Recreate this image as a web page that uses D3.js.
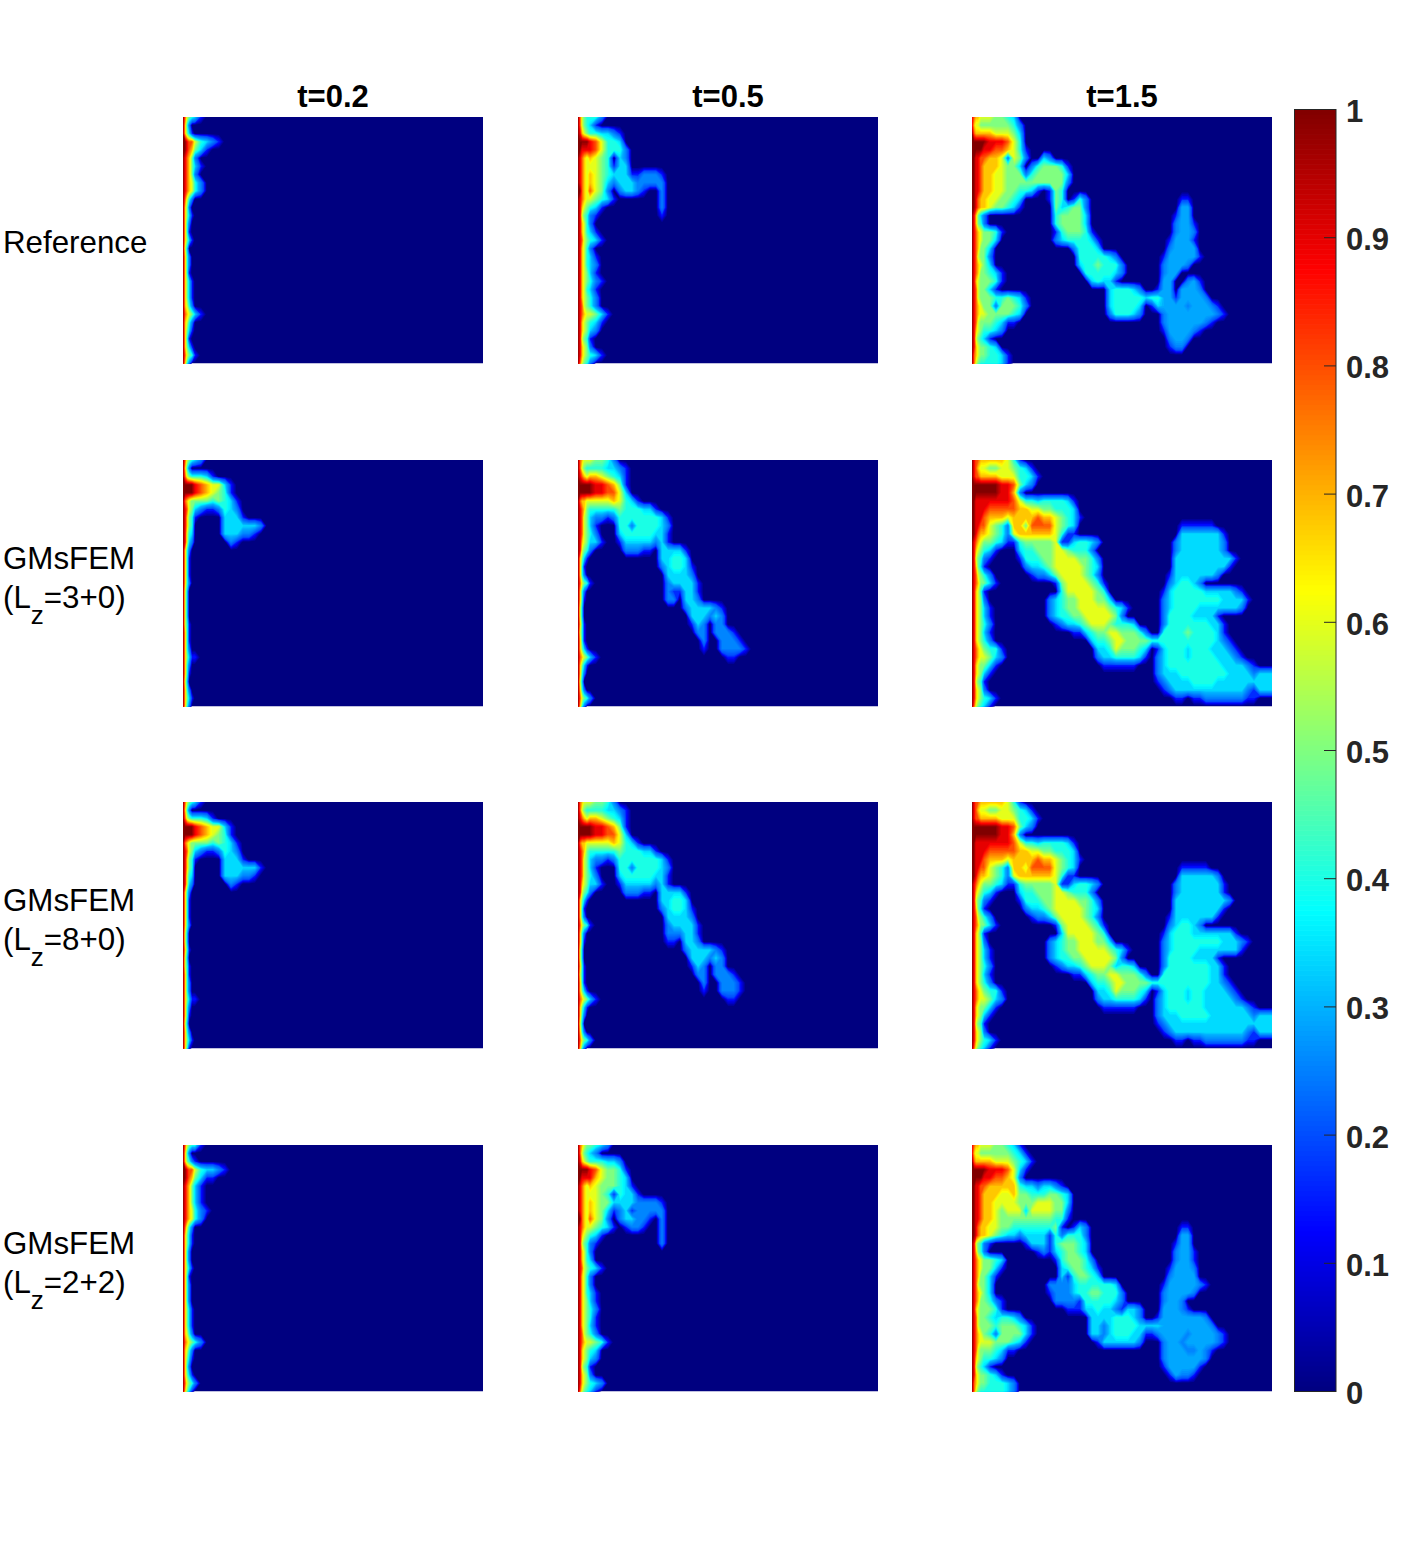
<!DOCTYPE html>
<html><head><meta charset="utf-8">
<script src="https://cdn.jsdelivr.net/npm/d3@7"></script>
<style>html,body{margin:0;padding:0;background:#fff}svg{display:block}text{font-family:"Liberation Sans",Arial,sans-serif}</style>
</head><body><svg id="c" width="1406" height="1563"></svg>
<script>
// Saturation fields. Each string is one mesh row; each character is a level code.
const levelCodes = {0:0,1:0.1,2:0.22,a:0.3,3:0.35,4:0.42,5:0.5,6:0.6,7:0.7,8:0.8,9:0.9,X:1};
const meshX = [0,2,4,6,9].concat(d3.range(12,301,6));
const timeLabels = ["t=0.2","t=0.5","t=1.5"];
const colorTicks = [0,0.1,0.2,0.3,0.4,0.5,0.6,0.7,0.8,0.9,1];

const ref02 = ["X8654 31","X7420","X7531","XX988 64321","XX987 531","X9875 2","X9875 31","X9875 2","X9876 42","X9876 42","X8642",
"X7520","X7531","X7420","X7410","X7531","X6300","X7420","X7420","X7410","X7531","X7531","X7531","X7642","X8765 31","X7642","X7531","X7410","X7531","X8654 1","X7420"];
const ref05 = ["X8654 44200","X8654 31","X9765 44332 1","XXXXX 98644 3","XX999 98644 42","X9876 76540 32","X9876 66541 33","X9876 76543 33112 221","X9876 76532 33322 222","XX876 86520 23321 002","X9876 65431 00000 002",
"X9765 43100 00000 002","X9654 21000 00000 001","X9764 2","X9764 31","X9865 431","X9764 2","X9764 31","X9764 32","X9765 31","X9765 421","X9764 31","X9765 42","X9865 42","X9876 6531","X9765 431","X9765 32","X9654 1","X9765 2","X9765 431","X8654 2"];
const ref15 = ["98776 66554 30","97665 55555 42","X8777 77666 530","XXXXX X9998 640","XXXXX 99887 641","XX998 87762 65200 32","XX998 77765 53024 55541","XX998 77665 55245 55553","XX998 77665 55555 55552","XX998 77665 54431 01540","XX987 76655 43000 01540 14200 00000 00000 00011",
"XX987 76554 31000 00534 55200 00000 00000 000aa","X9753 20000 00000 00455 55300 00000 00000 001aa","X9754 20000 00000 00455 55300 00000 00000 002aa 1","X9876 55410 00000 00145 55410 00000 00000 002aa 2","X9876 55300 00000 00234 44431 00000 00000 01aaa 1","X9875 53000 00000 00000 24443 00000 00000 02aaa a","X9865 52000 00000 00000 04444 43200 00000 1aaaa a1","X9876 53000 00000 00000 03445 44420 00000 2aaa2","X9875 54310 00000 00000 00444 44320 00000 2aa00","X9765 55410 00000 00000 00034 33100 00000 aa002 a1",
"X9865 53100 00000 00000 00000 03444 32001 aa0aa a2","X9865 55445 43100 00000 00000 03444 44344 aa1aa aa2","X9876 55255 54200 00000 00000 03444 43013 aaaa2 aaa21","X9876 65555 43000 00000 00000 02444 32000 2aaaa aaaa2 1","X9865 55431 10000 00000 00000 00000 00000 2aaaa aa21","X9765 44320 00000 00000 00000 00000 00000 1aaaa 21","X9654 31000 00000 00000 00000 00000 00000 02aa2","X9765 54300 00000 00000 00000 00000 00000 01220","X8765 54431","X8654 44431"];

const a02 = ["X8654 32","X7420","X8654 4431","XXXXX 98766 31","XXXXX 98765 41","X8765 55545 431","X9865 32112 432","X9754 10000 3331","X9754 00000 33333 32","X9643 00000 33322 1","X9632 00000 021",
"X7420","X7410","X7410","X7410","X7420","X6300","X6300","X6300","X6300","X6410","X7410","X7410","X7420","X7531 1","X7420","X7410","X6300","X7420","X7531","X7420"];
const a05 = ["X8766 65542","X8654 44433 21","X9876 77654 31","XXXXX X9987 51","XXXXX X9988 63","X8776 66667 6431","X9875 44444 54443 31","X9865 32212 44444 44310","X9865 31000 44244 44320","X9865 42000 34444 43310","X9765 33100 13333 32310",
"X9654 20000 02221 10333 31","X7531 00000 00000 00334 43","X7410 00000 00000 00234 431","X7420 00000 00000 00033 332","X8654 10000 00000 00023 3331","X7420 00000 00000 00021 1331","X7410 00000 00000 00022 0332","X6300 00000 00000 00000 02333 321","X6300 00000 00000 00000 00333 232","X7410 00000 00000 00000 00132 022",
"X6410 00000 00000 00000 00022 02221","X7410 00000 00000 00000 00002 00222 1","X7531 00000 00000 00000 00001 00222 21","X8765 31000 00000 00000 00000 00011","X7531","X7420","X6300","X7420","X8654 2","X7420"];
const a15 = ["X9887 77776 41","X9876 65566 5431","X9887 77766 64431","XXXXX XXX99 8532","XXXXX XXX99 72","XX999 99999 86443 44443 1","XX999 98888 87766 55444 3","XX999 87776 77778 77654 31","XX998 86542 77588 88654 3 0000 00000 00000 00011 1111","XX987 76542 67777 77641 1 0000 00000 00000 00033 33333 1","X9876 55431 14555 55611 34432 00000 00000 00233 33333 2",
"X9765 43100 03445 55665 44420 00000 00000 00233 33333 2","X9654 21000 01444 55666 65542 00000 00000 00333 33333 331","X9753 10000 00233 45666 66543 00000 00000 00333 33333 31","X9865 42000 00012 23566 66542 00000 00000 01333 33332","X9875 53100 00000 00156 66654 10000 00000 02344 32","X9764 10000 00000 00046 66665 40000 00000 13444 44333 3321","X9765 20000 00000 02345 56665 53000 00000 23444 44444 33331","X9765 31000 00000 02345 56666 65431 00000 23444 43333 3332","X9765 31000 00000 02344 55666 66520 00000 24444 33331","X9765 42000 00000 00123 34566 65444 30000 24444 44433 1",
"X9765 31000 00000 00000 11345 56655 54200 44445 44443 1","X9765 42000 00000 00000 00034 45665 55544 44444 44443 21","X9876 54410 00000 00000 00003 34655 54301 34443 44433 321","X9876 65320 00000 00000 00002 33444 43102 34443 44443 3321","X9765 53100 00000 00000 00000 11111 10002 34444 44444 33332 1","X9765 31000 00000 00000 00000 00000 00002 33344 44444 43333 2333","X9654 10000 00000 00000 00000 00000 00001 23333 44443 33333 3333","X9765 20000 00000 00000 00000 00000 00000 12333 33333 33332 1333","X9765 43100 00000 00000 00000 00000 00000 00110 11222 22221 1","X8654 31"];

const b02 = ["X8654 31","X7420","X8654 4431","XXXXX 98766 31","XXXXX 98765 41","X8765 55545 431","X9865 32112 432","X9754 10000 3331","X9754 00000 33333 31","X9643 00000 33322 1","X9632 00000 021",
"X7420","X7410","X7410","X7410","X7420","X6300","X6300","X7410","X6300","X6410","X7410","X7420","X7420","X7531 1","X7420","X7410","X6300","X7420","X7531","X7410"];
const b05 = ["X8766 65542","X8654 44433 21","X9876 77654 31","XXXXX X9987 51","XXXXX X9988 63","X8776 66667 6431","X9875 44444 54443 31","X9865 32212 44444 44310","X9865 31000 44244 44320","X9865 42000 34444 43310","X9765 33100 13333 32310",
"X9654 20000 02221 10333 31","X7531 00000 00000 00334 43","X7410 00000 00000 00234 431","X7420 00000 00000 00033 332","X8654 10000 00000 00023 3331","X7420 00000 00000 00022 2331","X7410 00000 00000 00011 0332","X6300 00000 00000 00000 02333 321","X6300 00000 00000 00000 00333 232","X7410 00000 00000 00000 00132 022",
"X6410 00000 00000 00000 00022 02221","X7410 00000 00000 00000 00002 00222 1","X7531 00000 00000 00000 00001 00222 1","X8765 31000 00000 00000 00000 00011","X7531","X7420","X6300","X7420","X8654 2","X7420"];
const b15 = ["X9887 77776 41","X9876 65566 5431","X9887 77766 64431","XXXXX XXX99 8532","XXXXX XXX99 72","XX999 99999 86443 44443 1","XX999 98888 87766 55444 3","XX999 87776 77778 77654 31","XX998 86542 77688 88654 3 0000 00000 00000 00011 1110","XX987 76542 67777 77641 1 0000 00000 00000 00033 33332","X9876 55431 14555 55611 34432 00000 00000 00233 33333 1",
"X9765 43100 03445 55665 44420 00000 00000 00233 33333 1","X9654 21000 01444 55666 65542 00000 00000 00333 33333 32","X9753 10000 00233 45666 66543 00000 00000 00333 33333 1","X9865 42000 00012 23566 66542 00000 00000 01333 33331","X9875 53100 00000 00156 66654 10000 00000 02344 32","X9764 10000 00000 00036 66665 40000 00000 13444 33333 331","X9765 20000 00000 02345 56665 53000 00000 23444 44444 33321","X9765 31000 00000 02345 56666 65431 00000 23444 43333 3331","X9765 31000 00000 02344 55666 66520 00000 24444 33331","X9765 42000 00000 00123 34566 65344 30000 24444 44433 1",
"X9765 31000 00000 00000 11345 56655 54200 44444 44433 1","X9765 42000 00000 00000 00034 45665 55544 44444 44433 21","X9876 54410 00000 00000 00003 34655 54301 34443 44333 321","X9876 65320 00000 00000 00002 33444 43102 34443 44333 3321","X9765 53100 00000 00000 00000 11111 10002 34444 44333 33332 1","X9765 31000 00000 00000 00000 00000 00002 33344 44433 33333 2333","X9654 10000 00000 00000 00000 00000 00001 23333 33333 33333 3333","X9765 20000 00000 00000 00000 00000 00000 12333 33333 33332 1333","X9765 43100 00000 00000 00000 00000 00000 00110 11222 22221 1","X8654 31"];

const c02 = ["X8654 41","X7420","X7542 1","XX988 64332 1","XX987 5311","X9875 31","X9875 31","X9875 31","X9876 421","X9876 42","X8642",
"X7531","X7531","X7420","X7420","X7531","X7410","X7420","X7420","X7420","X7531","X7531","X7531","X7642","X8765 42","X7642","X7531","X7420","X7531","X8654 2","X7531"];
const c05 = ["X8765 5432","X8654 32","X9765 44433 2","XXXXX 98655 41","XX999 97655 43","X9876 76555 431","X9876 66541 4331","X9876 76553 33322 221","X9876 76531 23122 222","XX876 86520 23322 102","X9876 65431 01221 002",
"X9765 43100 00000 002","X9654 21000 00000 002","X9764 2","X9764 3","X9865 431","X9764 2","X9764 2","X9764 31","X9765 31","X9765 42","X9765 41","X9765 31","X9865 42","X9876 6541","X9765 43","X9765 32","X9654 1","X9765 2","X9765 432","X8654 31"];
const c15 = ["98776 66554 31","97665 55555 431","X8777 77666 5431","XXXXX X9998 631","XXXXX 99887 62","XX998 87777 74332 3321","XX998 77766 75544 45543","XX998 77666 65556 66553","XX998 77656 66366 66552","XX998 77655 55555 55441","XX987 76655 44444 44510 13200 00000 00000 00011",
"XX987 76543 32333 31424 44200 00000 00000 000aa","X9654 21000 00133 31455 54300 00000 00000 001aa","X9754 20000 00001 21345 54300 00000 00000 002aa 1","X9876 55430 00000 00145 55420 00000 00000 002aa 1","X9876 55310 00000 00034 55431 00000 00000 01aaa 2","X9875 53100 00000 00031 45543 00000 00000 02aaa a","X9865 53000 00000 02222 34444 44300 00000 1aaaa a21","X9876 53000 00000 01222 34455 44420 00000 2aaaa 2","X9875 54210 00000 00222 21444 44320 00000 2aa20","X9765 55410 00000 00001 11334 33213 32000 aaa21",
"X9865 54344 32000 00000 00033 33444 32001 aaaaa aa2","X9865 55455 54310 00000 00033 23444 43333 aaaaa aaa2","X9876 54255 55310 00000 00033 23444 33112 aaaa2 aaaa2 1","X9876 66555 43100 00000 00001 33333 32000 2aa2a aaaa2 1","X9865 55431 10000 00000 00000 00000 00000 2aaa2 2a21","X9765 44320 00000 00000 00000 00000 00000 2aaaa aa2","X9654 31000 00000 00000 00000 00000 00000 1aaaa a1","X9765 54310 00000 00000 00000 00000 00000 01a22 1","X8765 54443 2","X8654 44443 2"];

const panelRows = [[ref02,ref05,ref15],[a02,a05,a15],[b02,b05,b15],[c02,c05,c15]];

const svg = d3.select("#c");
const jet = d3.scaleLinear().domain([0,0.125,0.375,0.625,0.875,1]).range(["#000080","#0000ff","#00ffff","#ffff00","#ff0000","#800000"]);
const fringe = d3.scaleLinear().domain([0,0.12,0.3,1]).range([0,0.2,0.3,1]);
const colLeft = [183,578,972], rowTop = [117,460,802,1145], panelW = 300, panelH = 246.5;
const nx = meshX.length, ny = 31;
const yScale = d3.scaleLinear().domain([0,ny-1]).range([0,panelH]);
const gridX = d3.scaleLinear().domain(d3.range(nx)).range(meshX);
const thresholds = d3.range(0.02,1.001,0.02);
const contourGen = d3.contours().size([nx,ny]).thresholds(thresholds);
const path = d3.geoPath(d3.geoTransform({point(x,y){this.stream.point(gridX(x-0.5), yScale(y-0.5));}}));
const parse = rows => rows.flatMap(r=>{
  const s = r.replace(/ /g,"").padEnd(nx,"0").slice(0,nx);
  return Array.from(s, c=> levelCodes[c]);
});

const defs = svg.append("defs");
defs.append("clipPath").attr("id","pc").append("rect").attr("width",panelW).attr("height",panelH);

panelRows.forEach((row,i)=>row.forEach((field,j)=>{
  const g = svg.append("g").attr("transform",`translate(${colLeft[j]},${rowTop[i]})`).attr("clip-path","url(#pc)");
  g.append("rect").attr("width",panelW).attr("height",panelH).attr("fill",jet(0));
  g.selectAll("path").data(contourGen(parse(field))).join("path").attr("d",path).attr("fill",d=>jet(fringe(d.value)));
}));

// titles
svg.selectAll("text.title").data(timeLabels).join("text").attr("class","title")
  .attr("x",(d,i)=>colLeft[i]+panelW/2).attr("y",107).attr("text-anchor","middle")
  .attr("font-size",31).attr("font-weight","bold").attr("fill","#000").text(d=>d);

// row labels
svg.append("text").attr("x",3).attr("y",253).attr("font-size",31.3).attr("fill","#000").text("Reference");
[["3+0",569],["8+0",911],["2+2",1254]].forEach(([lz,y])=>{
  svg.append("text").attr("x",3).attr("y",y).attr("font-size",31.3).attr("fill","#000").text("GMsFEM");
  const t = svg.append("text").attr("x",3).attr("y",y+39).attr("font-size",31.3).attr("fill","#000");
  t.append("tspan").text("(L");
  t.append("tspan").attr("font-size",26).attr("dy",16).text("z");
  t.append("tspan").attr("dy",-16).text(`=${lz})`);
});

// colour bar
const cbY = d3.scaleLinear().domain([0,1]).range([1391,109]);
const steps = d3.range(0,256).map(k=>k/256);
svg.append("g").selectAll("rect").data(steps).join("rect")
  .attr("x",1294).attr("width",42).attr("y",d=>cbY(d+1/256)).attr("height",(cbY(0)-cbY(1))/256+0.6)
  .attr("fill",d=>jet(d+0.5/256));
svg.append("rect").attr("x",1294.5).attr("y",109.5).attr("width",41.5).attr("height",1282).attr("fill","none").attr("stroke","#262626").attr("stroke-width",1);
const axis = d3.axisRight(cbY).tickValues(colorTicks).tickFormat(d3.format("~g")).tickSizeInner(-12).tickSizeOuter(0).tickPadding(10);
const ag = svg.append("g").attr("transform","translate(1336,0)").call(axis);
ag.select(".domain").remove();
ag.selectAll("line").attr("stroke","#262626");
ag.selectAll("text").attr("font-size",31).attr("font-weight","bold").attr("fill","#262626").attr("font-family",'"Liberation Sans",Arial,sans-serif').attr("dy","0.4em");
</script></body></html>
